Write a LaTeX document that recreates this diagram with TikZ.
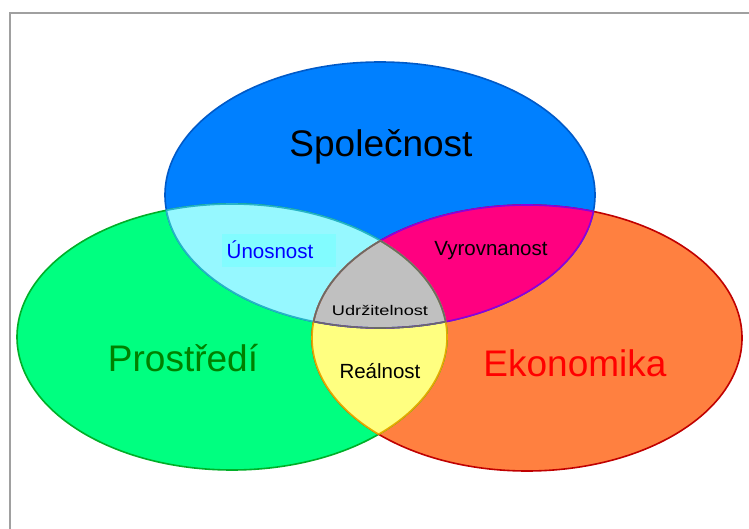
\documentclass[tikz,border=0pt]{standalone}
\usepackage{fontspec}
\setmainfont{Liberation Sans}
\definecolor{socblue}{RGB}{0,128,255}
\definecolor{socedge}{RGB}{0,90,200}
\definecolor{envgreen}{RGB}{0,255,128}
\definecolor{envedge}{RGB}{0,175,40}
\definecolor{ecoorange}{RGB}{255,128,64}
\definecolor{ecoedge}{RGB}{192,0,0}
\definecolor{lenscyan}{RGB}{150,248,255}
\definecolor{cyanbox}{RGB}{130,252,255}
\definecolor{cyanedge}{RGB}{40,180,200}
\definecolor{lensmag}{RGB}{255,0,128}
\definecolor{magedge}{RGB}{140,0,220}
\definecolor{lensgray}{RGB}{192,192,192}
\definecolor{grayedge}{RGB}{105,105,105}
\definecolor{lensyellow}{RGB}{255,255,128}
\definecolor{yellowedge}{RGB}{230,170,0}
\definecolor{framegray}{RGB}{160,160,160}
\definecolor{envtext}{RGB}{0,128,0}
\definecolor{ecotext}{RGB}{255,0,0}
\definecolor{unotext}{RGB}{0,0,255}
\def\SOC{(380,195) ellipse [x radius=215pt, y radius=133pt]}
\def\ENV{(232,337) ellipse [x radius=215pt, y radius=133pt]}
\def\ECO{(527,338) ellipse [x radius=215pt, y radius=133pt]}
\tikzset{
  bigtext/.style={inner sep=0pt, font=\fontsize{37}{40}\selectfont},
  midtext/.style={inner sep=0pt, font=\fontsize{20.5}{23}\selectfont},
  edge/.style={line width=1.6pt},
}
\begin{document}
\begin{tikzpicture}[x=1pt,y=-1pt]
\useasboundingbox (0,0) rectangle (749,529);
\fill[white] (0,0) rectangle (749,529);
\draw[framegray, line width=2pt] (760,13) -- (10,13) -- (10,540);
% main ellipses
\fill[envgreen] \ENV;
\fill[ecoorange] \ECO;
\fill[socblue] \SOC;
\draw[edge, envedge] \ENV;
\draw[edge, ecoedge] \ECO;
\draw[edge, socedge] \SOC;
% lenses
\begin{scope}
  \clip \SOC;
  \fill[lenscyan] \ENV;
  \fill[lensmag] \ECO;
\end{scope}
\begin{scope}
  \clip \ENV;
  \fill[lensyellow] \ECO;
\end{scope}
\begin{scope}
  \clip \SOC; \clip \ENV;
  \fill[lensgray] \ECO;
\end{scope}
% lens borders
\begin{scope}
  \clip \SOC;
  \draw[edge, cyanedge] \ENV;
\end{scope}
\begin{scope}
  \clip \ENV;
  \draw[edge, cyanedge] \SOC;
\end{scope}
\begin{scope}
  \clip \SOC;
  \draw[edge, magedge] \ECO;
\end{scope}
\begin{scope}
  \clip \ECO;
  \draw[edge, magedge] \SOC;
\end{scope}
\begin{scope}
  \clip \ENV;
  \draw[edge, yellowedge] \ECO;
\end{scope}
\begin{scope}
  \clip \ECO;
  \draw[edge, yellowedge] \ENV;
\end{scope}
\begin{scope}
  \clip \SOC; \clip \ENV;
  \draw[edge, grayedge] \ECO;
\end{scope}
\begin{scope}
  \clip \SOC; \clip \ECO;
  \draw[edge, grayedge] \ENV;
\end{scope}
\begin{scope}
  \clip \ENV; \clip \ECO;
  \draw[edge, grayedge] \SOC;
\end{scope}
% labels
\node[bigtext] (spol) at (381,147) {Společnost};
\node[bigtext, text=envtext] (pros) at (183,358) {Prostředí};
\node[bigtext, text=ecotext] (ekon) at (575,363) {Ekonomika};
\fill[cyanbox] (222,234) rectangle (336,267);
\node[midtext, text=unotext] (unos) at (270,250) {Únosnost};
\node[midtext] (vyro) at (491,251) {Vyrovnanost};
\node[midtext] (real) at (380,371) {Reálnost};
\node[inner sep=0pt, font=\fontsize{14}{16}\selectfont] (udrz) at (380,310) {\scalebox{1.3}[1]{Udržitelnost}};
\end{tikzpicture}
\end{document}
